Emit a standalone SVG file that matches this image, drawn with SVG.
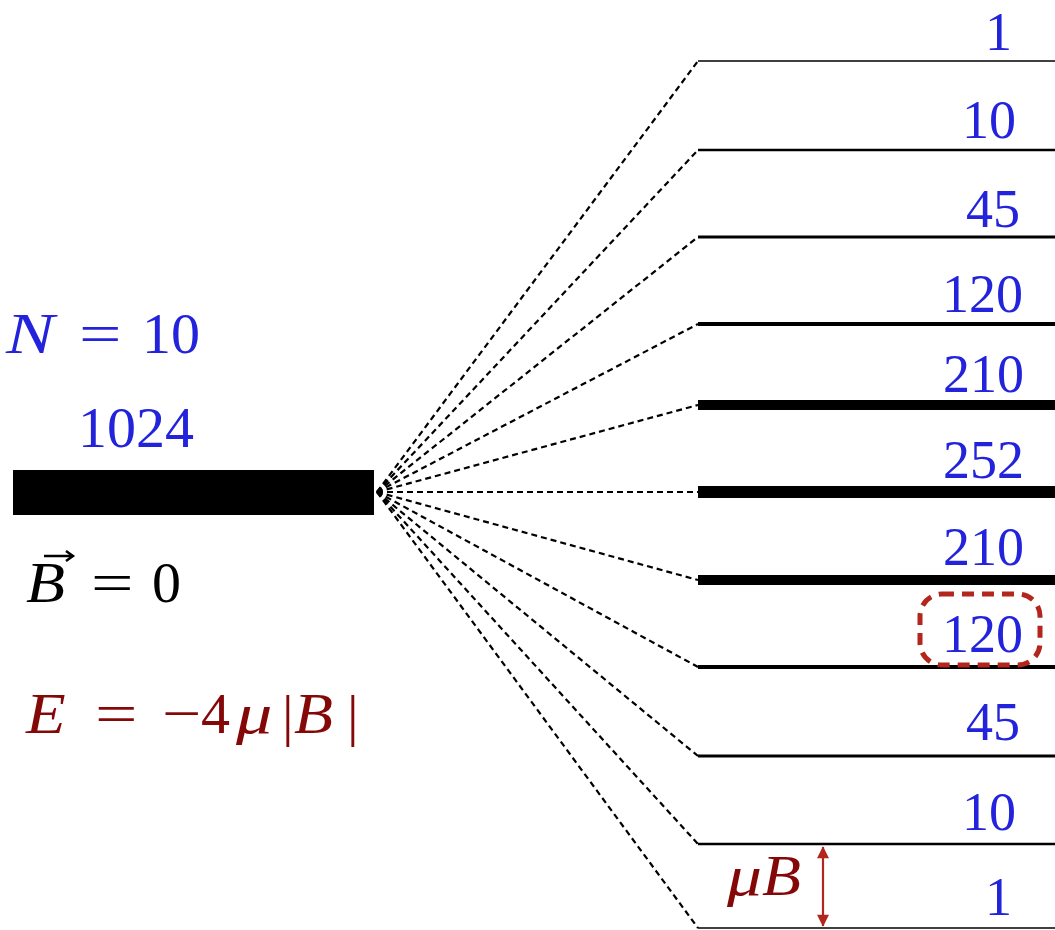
<svg xmlns="http://www.w3.org/2000/svg" width="1055" height="930" viewBox="0 0 1055 930">
<style>
.num{font-family:"Liberation Serif","DejaVu Serif",serif;font-size:54px;fill:#2323dc;text-anchor:end}
.lbl{font-family:"Liberation Serif","DejaVu Serif",serif;font-size:58px}
.it{font-style:italic}
.lvl{stroke:#000;fill:none}
.dash{stroke:#000;stroke-width:2.2;stroke-dasharray:6 4;fill:none}
.red{fill:#850808}
</style>
<defs>
<marker id="ah" viewBox="0 0 12 14" refX="13" refY="7" markerWidth="14" markerHeight="12" orient="auto-start-reverse" markerUnits="userSpaceOnUse"><path d="M0,0 L14,7 L0,14 z" fill="#b3261e"/></marker>
</defs>
<rect width="1055" height="930" fill="#fff"/>
<g id="bar0">
<rect x="13" y="470" width="361" height="45" fill="#000"/>
<text class="lbl" x="78" y="447" font-size="55" fill="#2323dc">1024</text>
</g>
<g id="labels">
<g fill="#2323dc">
<text class="lbl it" transform="translate(6,353) scale(1.25,1)" font-size="60">N</text>
<text class="lbl" transform="translate(79,353) scale(1.3,1)">=</text>
<text class="lbl" x="142" y="353">10</text>
</g>
<g fill="#000">
<text class="lbl it" transform="translate(26,602) scale(1.1,1)">B</text>
<text class="lbl" transform="translate(91,602) scale(1.3,1)">=</text>
<text class="lbl" x="152" y="602">0</text>
<path d="M44,556 H72 M66,551 L73,556 L66,561" stroke="#000" stroke-width="2.5" fill="none"/>
</g>
<g class="red">
<text class="lbl it" transform="translate(26,733) scale(1.12,1)">E</text>
<text class="lbl" transform="translate(95,733) scale(1.3,1)">=</text>
<text class="lbl" transform="translate(162,733) scale(1.2,1)">−</text>
<text class="lbl" x="201" y="733">4</text>
<text class="lbl it" transform="translate(236,733) scale(1.25,1)">μ</text>
<text class="lbl" x="282" y="735" font-size="66">|</text>
<text class="lbl it" transform="translate(294,733) scale(1.1,1)">B</text>
<text class="lbl" x="347" y="735" font-size="66">|</text>
</g>
</g>
<g id="connectors">
<path class="dash" d="M377,492 L698,61"/>
<path class="dash" d="M377,492 L698,150"/>
<path class="dash" d="M377,492 L698,237"/>
<path class="dash" d="M377,492 L698,324"/>
<path class="dash" d="M377,492 L698,405"/>
<path class="dash" d="M377,492 L698,492"/>
<path class="dash" d="M377,492 L698,580"/>
<path class="dash" d="M377,492 L698,667"/>
<path class="dash" d="M377,492 L698,756"/>
<path class="dash" d="M377,492 L698,844"/>
<path class="dash" d="M377,492 L698,928"/>
</g>
<g id="levels">
<g id="l1"><line class="lvl" x1="698" y1="61" x2="1055" y2="61" stroke-width="1.6"/><text class="num" x="1012" y="50">1</text></g>
<g id="l2"><line class="lvl" x1="698" y1="150" x2="1055" y2="150" stroke-width="2.4"/><text class="num" x="1016" y="138">10</text></g>
<g id="l3"><line class="lvl" x1="698" y1="237" x2="1055" y2="237" stroke-width="3.2"/><text class="num" x="1020" y="227">45</text></g>
<g id="l4"><line class="lvl" x1="698" y1="324" x2="1055" y2="324" stroke-width="4"/><text class="num" x="1023" y="312">120</text></g>
<g id="l5"><line class="lvl" x1="698" y1="405" x2="1055" y2="405" stroke-width="10"/><text class="num" x="1024" y="392">210</text></g>
<g id="l6"><line class="lvl" x1="698" y1="492" x2="1055" y2="492" stroke-width="12"/><text class="num" x="1024" y="478">252</text></g>
<g id="l7"><line class="lvl" x1="698" y1="580" x2="1055" y2="580" stroke-width="10"/><text class="num" x="1024" y="565">210</text></g>
<g id="l8"><line class="lvl" x1="698" y1="667" x2="1055" y2="667" stroke-width="4"/><text class="num" x="1023" y="652">120</text></g>
<g id="l9"><line class="lvl" x1="698" y1="756" x2="1055" y2="756" stroke-width="3.2"/><text class="num" x="1020" y="740">45</text></g>
<g id="l10"><line class="lvl" x1="698" y1="844" x2="1055" y2="844" stroke-width="2.4"/><text class="num" x="1016" y="830">10</text></g>
<g id="l11"><line class="lvl" x1="698" y1="928" x2="1055" y2="928" stroke-width="1.6"/><text class="num" x="1012" y="915">1</text></g>
</g>
<g id="highlight">
<rect x="920" y="594" width="120" height="71" rx="22" fill="none" stroke="#b3261e" stroke-width="5" stroke-dasharray="12 8"/>
</g>
<g id="muB">
<line x1="823" y1="847" x2="823" y2="926" stroke="#b3261e" stroke-width="2.2" marker-start="url(#ah)" marker-end="url(#ah)"/>
<text class="lbl red it" transform="translate(727,895) scale(1.2,1)">μ</text>
<text class="lbl red it" transform="translate(762,895) scale(1.1,1)">B</text>
</g>
</svg>
